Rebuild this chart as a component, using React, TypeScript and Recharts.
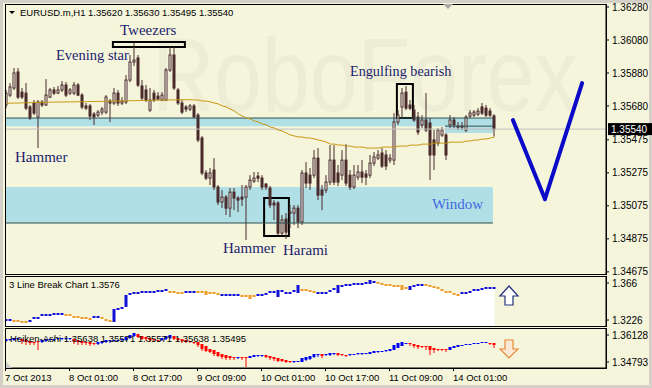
import React from 'react';
import { ComposedChart, Bar, Line, Area, XAxis, YAxis, ReferenceArea, ReferenceLine } from 'recharts';

// EURUSD.m H1, one entry per hourly bar (7 Oct 09:00 .. 14 Oct 11:00)
const opens = [
  1.35686, 1.35746, 1.35789, 1.35886, 1.35764, 1.35758, 1.35674, 1.35698, 1.35613, 1.35704,
  1.35686, 1.35734, 1.35777, 1.35758, 1.35777, 1.35807, 1.35758, 1.35758, 1.35807, 1.35746,
  1.3568, 1.3568, 1.35631, 1.35625, 1.35643, 1.35643, 1.3571, 1.35698, 1.35758, 1.35698,
  1.35704, 1.35837, 1.35946, 1.35971, 1.35801, 1.35777, 1.35655, 1.35758, 1.3574, 1.35716,
  1.35716, 1.35898, 1.35989, 1.35777, 1.35698, 1.35674, 1.35661, 1.3568, 1.35625, 1.35486,
  1.35274, 1.35243, 1.35292, 1.35189, 1.35098, 1.35128, 1.35061, 1.35158, 1.35122, 1.35128,
  1.35128, 1.35189, 1.35225, 1.35255, 1.35243, 1.35207, 1.35183, 1.35092, 1.35092, 1.3491,
  1.34995, 1.35037, 1.35031, 1.35061, 1.34977, 1.35274, 1.35261, 1.35261, 1.35364, 1.35171,
  1.35171, 1.35219, 1.35352, 1.35274, 1.35261, 1.35352, 1.35261, 1.35189, 1.35249, 1.3528,
  1.35268, 1.35261, 1.35334, 1.35364, 1.35395, 1.35383, 1.35352, 1.35352, 1.35583, 1.35674,
  1.35764, 1.35686, 1.35655, 1.35613, 1.35565, 1.35595, 1.35577, 1.35474, 1.35455, 1.35504,
  1.35504, 1.35565, 1.35595, 1.35558, 1.35552, 1.35534, 1.35619, 1.35625, 1.35631, 1.35674,
  1.35667, 1.35649, 1.3562,
];
const highs = [
  1.35777, 1.35819, 1.3591, 1.3591, 1.35789, 1.35819, 1.35686, 1.35716, 1.35716, 1.35716,
  1.35843, 1.35789, 1.35795, 1.35801, 1.35831, 1.35825, 1.35789, 1.35825, 1.35819, 1.35758,
  1.35698, 1.35692, 1.35643, 1.35655, 1.35674, 1.35746, 1.35722, 1.35789, 1.35777, 1.35734,
  1.35867, 1.35989, 1.36061, 1.35989, 1.35837, 1.35807, 1.35789, 1.35777, 1.35764, 1.35764,
  1.3591, 1.36037, 1.36037, 1.35789, 1.35716, 1.35686, 1.35692, 1.35692, 1.35637, 1.35498,
  1.35292, 1.35304, 1.35364, 1.35201, 1.35171, 1.3514, 1.35183, 1.35183, 1.35134, 1.35201,
  1.35201, 1.35261, 1.3528, 1.3528, 1.35261, 1.35213, 1.35195, 1.3511, 1.35104, 1.35019,
  1.35031, 1.3508, 1.3508, 1.3508, 1.35292, 1.3534, 1.35304, 1.35413, 1.35425, 1.35201,
  1.35261, 1.35443, 1.35443, 1.35322, 1.35413, 1.35449, 1.35292, 1.35322, 1.35322, 1.35352,
  1.35292, 1.35383, 1.35401, 1.35413, 1.35425, 1.35413, 1.35389, 1.35637, 1.35655, 1.35789,
  1.35801, 1.35716, 1.35686, 1.35643, 1.35625, 1.35758, 1.35607, 1.35534, 1.35546, 1.35552,
  1.35516, 1.35625, 1.35613, 1.35583, 1.35583, 1.35625, 1.35655, 1.35655, 1.35667, 1.35698,
  1.35686, 1.35667, 1.3563,
];
const lows = [
  1.35667, 1.35734, 1.35777, 1.35722, 1.35722, 1.35655, 1.35595, 1.35625, 1.35425, 1.35674,
  1.3568, 1.35728, 1.35746, 1.35752, 1.35764, 1.35734, 1.35746, 1.35746, 1.3574, 1.35661,
  1.35655, 1.35595, 1.35565, 1.35613, 1.35625, 1.35631, 1.35583, 1.35686, 1.3568, 1.35686,
  1.35692, 1.35825, 1.35922, 1.35795, 1.35716, 1.35704, 1.35643, 1.35704, 1.35716, 1.3571,
  1.3571, 1.35886, 1.35777, 1.35686, 1.35631, 1.35643, 1.35649, 1.35607, 1.35461, 1.35261,
  1.35231, 1.35201, 1.35171, 1.3508, 1.35061, 1.35019, 1.35007, 1.35049, 1.35037, 1.35074,
  1.34868, 1.35171, 1.35213, 1.35219, 1.35171, 1.35171, 1.35061, 1.34989, 1.34898, 1.34898,
  1.34874, 1.3494, 1.34959, 1.3494, 1.34959, 1.35183, 1.35171, 1.35243, 1.3511, 1.35049,
  1.35152, 1.35201, 1.35201, 1.35195, 1.35231, 1.35195, 1.35171, 1.35177, 1.35231, 1.35213,
  1.35201, 1.35243, 1.35316, 1.35352, 1.35304, 1.35292, 1.35334, 1.35322, 1.35565, 1.35607,
  1.35655, 1.35655, 1.35583, 1.35504, 1.35546, 1.35522, 1.35231, 1.35292, 1.35437, 1.35492,
  1.35352, 1.35546, 1.35546, 1.35534, 1.35534, 1.35522, 1.35607, 1.35613, 1.35619, 1.35625,
  1.35613, 1.35613, 1.35495,
];
const closes = [
  1.35758, 1.35795, 1.3588, 1.35734, 1.35734, 1.35667, 1.35607, 1.35637, 1.35704, 1.35686,
  1.35746, 1.35777, 1.35758, 1.35777, 1.35807, 1.35746, 1.35777, 1.35807, 1.35746, 1.35674,
  1.35667, 1.35619, 1.35613, 1.35643, 1.35661, 1.35734, 1.35698, 1.35758, 1.35698, 1.3571,
  1.35837, 1.35946, 1.35958, 1.35807, 1.35728, 1.35716, 1.35716, 1.35716, 1.35722, 1.35746,
  1.35898, 1.35989, 1.35789, 1.35698, 1.35643, 1.35661, 1.3568, 1.35613, 1.35474, 1.35274,
  1.35243, 1.35274, 1.35189, 1.35098, 1.35128, 1.35061, 1.35158, 1.35122, 1.3511, 1.35116,
  1.35189, 1.35231, 1.35243, 1.35243, 1.35189, 1.35189, 1.3508, 1.3508, 1.3491, 1.34989,
  1.34916, 1.35031, 1.35061, 1.34977, 1.35274, 1.35213, 1.35213, 1.35364, 1.3514, 1.3514,
  1.35219, 1.35352, 1.35219, 1.35219, 1.35352, 1.35213, 1.35189, 1.35261, 1.3528, 1.35249,
  1.35249, 1.35334, 1.35371, 1.35383, 1.35316, 1.35316, 1.35364, 1.35583, 1.35625, 1.35758,
  1.35667, 1.35667, 1.35595, 1.35522, 1.35595, 1.35534, 1.35383, 1.35383, 1.35534, 1.35534,
  1.35383, 1.35595, 1.35565, 1.35552, 1.35558, 1.35613, 1.35637, 1.35643, 1.35649, 1.35637,
  1.35625, 1.35625, 1.3554,
];
const movingAverage = [
  1.35696, 1.35697, 1.35698, 1.35698, 1.35699, 1.357, 1.357, 1.35701, 1.35702, 1.35702,
  1.35703, 1.35703, 1.35704, 1.35704, 1.35704, 1.35705, 1.35705, 1.35705, 1.35706, 1.35706,
  1.35706, 1.35707, 1.35707, 1.35708, 1.35708, 1.35709, 1.35709, 1.3571, 1.3571, 1.35711,
  1.35711, 1.35712, 1.35712, 1.35713, 1.35713, 1.35714, 1.35714, 1.35715, 1.35715, 1.35716,
  1.35716, 1.35717, 1.35717, 1.35718, 1.35718, 1.35718, 1.35718, 1.35717, 1.35716, 1.3571,
  1.3571, 1.35704, 1.35698, 1.35692, 1.3568, 1.35674, 1.35661, 1.35649, 1.35631, 1.35619,
  1.35607, 1.35601, 1.35589, 1.35583, 1.35571, 1.35565, 1.35552, 1.35546, 1.35534, 1.35528,
  1.35516, 1.35504, 1.35498, 1.35492, 1.35492, 1.35486, 1.35486, 1.3548, 1.35474, 1.35468,
  1.35461, 1.35449, 1.35449, 1.35443, 1.35443, 1.35437, 1.35437, 1.35431, 1.35431, 1.35431,
  1.35425, 1.35425, 1.35425, 1.35425, 1.35431, 1.35431, 1.35431, 1.35431, 1.35437, 1.35437,
  1.35437, 1.35443, 1.35443, 1.35443, 1.35449, 1.35449, 1.35449, 1.35455, 1.35455, 1.35455,
  1.35455, 1.35461, 1.35461, 1.35461, 1.35461, 1.35468, 1.35468, 1.35474, 1.35474, 1.3548,
  1.3548, 1.35486, 1.35492,
];

// 3 Line Break indicator
const lineBreak = [
  1.3226, 1.3226, 1.32143, 1.32143, 1.32025, 1.32025, 1.32143, 1.32495, 1.32495, 1.32846,
  1.32846, 1.32846, 1.32964, 1.32964, 1.32964, 1.32846, 1.32846, 1.32612, 1.32612, 1.32495,
  1.32495, 1.32377, 1.32612, 1.32612, 1.32495, 1.3226, 1.32143, 1.33433, 1.3355, 1.33668,
  1.35075, 1.3531, 1.35427, 1.35427, 1.35544, 1.35544, 1.35544, 1.35544, 1.35662, 1.35662,
  1.35779, 1.35544, 1.35544, 1.35427, 1.35427, 1.35544, 1.35544, 1.35544, 1.35544, 1.35544,
  1.3531, 1.35427, 1.35427, 1.3531, 1.35192, 1.35192, 1.35192, 1.35192, 1.35192, 1.35075,
  1.35075, 1.34841, 1.35075, 1.35192, 1.35192, 1.3531, 1.35544, 1.35544, 1.35662, 1.35662,
  1.35427, 1.35427, 1.35662, 1.36248, 1.35779, 1.35779, 1.35662, 1.35544, 1.35427, 1.35427,
  1.35427, 1.35662, 1.35896, 1.36248, 1.36248, 1.36365, 1.36365, 1.36483, 1.36483, 1.36483,
  1.366, 1.36835, 1.36717, 1.366, 1.36483, 1.36365, 1.36365, 1.36248, 1.36248, 1.35896,
  1.36014, 1.36131, 1.36248, 1.36365, 1.36365, 1.36365, 1.36248, 1.36131, 1.36014, 1.35779,
  1.35544, 1.35544, 1.3531, 1.35192, 1.35427, 1.35427, 1.35544, 1.35779, 1.35779, 1.35896,
  1.36014, 1.36014, 1.36014,
];
const lineBreakDir = (
  'uudddduuuuuuuuudddddddu' + 'udddu' + 'uuuuuuuuuuuuudddduuudddddd' + 'uuuuudddduuuuuuuuuuuddddu' +
  'uuuuuuuuuuuuuudddddddduuuudddddddddu' + 'uuuuuuuu'
).split('');
const lineBreakBlocks: [number, number][] = [
  [27, 1.32143], [30, 1.33902], [50, 1.35544], [61, 1.35075], [68, 1.35075],
  [73, 1.35544], [83, 1.35544], [91, 1.366], [99, 1.36248], [101, 1.35896],
];

// Heiken-Ashi indicator
const haOpen = [
  1.35832, 1.35881, 1.35881, 1.3593, 1.3593, 1.35881, 1.35832, 1.35782, 1.35832, 1.35782,
  1.35832, 1.35881, 1.35881, 1.3593, 1.3593, 1.3593, 1.3593, 1.3593, 1.35881, 1.35832,
  1.35782, 1.35782, 1.35733, 1.35683, 1.35733, 1.35782, 1.35832, 1.35832, 1.35832, 1.35881,
  1.35881, 1.3598, 1.36079, 1.36177, 1.36079, 1.36029, 1.3598, 1.3593, 1.35881, 1.35881,
  1.3593, 1.3598, 1.36079, 1.3598, 1.3593, 1.35881, 1.35832, 1.35782, 1.35782, 1.35683,
  1.35585, 1.35436, 1.35387, 1.35288, 1.35189, 1.3514, 1.35091, 1.35041, 1.34992, 1.35041,
  1.35041, 1.34992, 1.35041, 1.35091, 1.35091, 1.3514, 1.35091, 1.35041, 1.34992, 1.34942,
  1.34893, 1.34844, 1.34794, 1.34794, 1.34794, 1.34893, 1.34942, 1.35041, 1.3514, 1.35189,
  1.3514, 1.3514, 1.35189, 1.35239, 1.35189, 1.3514, 1.3514, 1.3514, 1.35189, 1.35189,
  1.35189, 1.35189, 1.35239, 1.35288, 1.35288, 1.35338, 1.35338, 1.35387, 1.35486, 1.35585,
  1.35683, 1.35733, 1.35683, 1.35634, 1.35585, 1.35585, 1.35585, 1.35486, 1.35436, 1.35436,
  1.35436, 1.35387, 1.35486, 1.35535, 1.35585, 1.35634, 1.35634, 1.35683, 1.35683, 1.35733,
  1.35733, 1.35733, 1.35733,
];
const haClose = [
  1.3593, 1.3593, 1.3598, 1.3598, 1.35832, 1.35782, 1.35733, 1.35733, 1.35782, 1.35881,
  1.3593, 1.3593, 1.3593, 1.3598, 1.3598, 1.3598, 1.3598, 1.35832, 1.35782, 1.35733,
  1.35733, 1.35683, 1.35683, 1.35782, 1.35832, 1.35881, 1.35881, 1.35881, 1.35881, 1.3593,
  1.36029, 1.36128, 1.36227, 1.36029, 1.3593, 1.3593, 1.35881, 1.35881, 1.35832, 1.3598,
  1.36079, 1.36128, 1.3593, 1.35881, 1.35832, 1.35782, 1.35782, 1.35733, 1.35634, 1.35436,
  1.35338, 1.35288, 1.35189, 1.35091, 1.35041, 1.34992, 1.34992, 1.34992, 1.35041, 1.34992,
  1.34992, 1.35091, 1.3514, 1.3514, 1.3514, 1.35041, 1.34992, 1.34942, 1.34844, 1.34844,
  1.34794, 1.34794, 1.34844, 1.34844, 1.34992, 1.35041, 1.35091, 1.35189, 1.35189, 1.35091,
  1.35189, 1.35239, 1.35239, 1.3514, 1.3514, 1.35091, 1.35189, 1.35189, 1.35239, 1.35239,
  1.35239, 1.35288, 1.35338, 1.35338, 1.35338, 1.35387, 1.35436, 1.35634, 1.35733, 1.35782,
  1.35733, 1.35683, 1.35585, 1.35535, 1.35535, 1.35535, 1.35387, 1.35387, 1.35387, 1.35387,
  1.35387, 1.35535, 1.35585, 1.35634, 1.35634, 1.35683, 1.35683, 1.35733, 1.35733, 1.35782,
  1.35782, 1.35683, 1.35634,
];
const haLow = [
  1.35782, 1.35832, 1.35832, 1.35881, 1.35683, 1.35634, 1.35634, 1.35634, 1.35387, 1.35733,
  1.35782, 1.35832, 1.35832, 1.35881, 1.35881, 1.35881, 1.35881, 1.35683, 1.35634, 1.35634,
  1.35634, 1.35585, 1.35634, 1.35634, 1.35683, 1.35733, 1.35733, 1.35782, 1.35832, 1.35832,
  1.35832, 1.3593, 1.36029, 1.3598, 1.35881, 1.35832, 1.35782, 1.35832, 1.35782, 1.35832,
  1.35881, 1.3593, 1.35881, 1.35782, 1.35733, 1.35733, 1.35733, 1.35683, 1.35535, 1.35338,
  1.35288, 1.35239, 1.35091, 1.35041, 1.34942, 1.34893, 1.34893, 1.34893, 1.34942, 1.34893,
  1.34547, 1.34992, 1.35041, 1.35041, 1.35041, 1.34992, 1.34893, 1.34844, 1.34794, 1.34794,
  1.34745, 1.34745, 1.34745, 1.34794, 1.34794, 1.34844, 1.34893, 1.34992, 1.35041, 1.34992,
  1.35091, 1.35091, 1.3514, 1.35091, 1.35091, 1.35041, 1.35091, 1.3514, 1.3514, 1.3514,
  1.35189, 1.35189, 1.35239, 1.35239, 1.35288, 1.35288, 1.35338, 1.35387, 1.35486, 1.35585,
  1.35683, 1.35585, 1.35486, 1.35436, 1.35486, 1.35387, 1.3514, 1.35239, 1.35338, 1.35338,
  1.35288, 1.35387, 1.35486, 1.35535, 1.35585, 1.35634, 1.35634, 1.35683, 1.35683, 1.35733,
  1.35733, 1.35634, 1.35486,
];

const priceTicks = [1.34675, 1.34875, 1.35075, 1.35275, 1.35475, 1.3568, 1.3588, 1.3608, 1.3628];
const lineBreakTicks = [1.3226, 1.366];
const heikenTicks = [1.34793, 1.36128];
const timeTicks = [0, 16, 32, 48, 64, 80, 96, 112];
const timeLabels = ['7 Oct 2013', '8 Oct 01:00', '8 Oct 17:00', '9 Oct 09:00', '10 Oct 01:00', '10 Oct 17:00', '11 Oct 09:00', '14 Oct 01:00'];

// drawn objects (bar index / price)
const zones = [
  { x1: -0.375, x2: 121.6, y1: 1.35558, y2: 1.35607 },
  { x1: 109.6, x2: 121.6, y1: 1.35516, y2: 1.35558 },
  { x1: -0.375, x2: 121.6, y1: 1.34971, y2: 1.35189 },
];
const zoneEdges = [
  { x1: -0.375, x2: 121.6, y: 1.35607 },
  { x1: 109.6, x2: 121.6, y: 1.35558 },
  { x1: -0.375, x2: 121.6, y: 1.34971 },
];
const patternBoxes = [
  { x1: 26.6, x2: 44.6, y1: 1.36037, y2: 1.36067 }, // tweezers
  { x1: 64.4, x2: 70.6, y1: 1.34892, y2: 1.35122 }, // harami
  { x1: 97.6, x2: 101.6, y1: 1.35607, y2: 1.35813 }, // engulfing
];
const forecast = [
  { i: 126.6, p: 1.35595 },
  { i: 134.6, p: 1.35116 },
  { i: 143.9, p: 1.35819 },
];

const FONT = '"Liberation Sans", Arial, sans-serif';
const SERIF = '"Liberation Serif", "Times New Roman", serif';
const BG = '#f5f5dc';
const CANDLE = '#4a2a2a';
const X_DOMAIN: [number, number] = [-0.375, 149.875];
const MAIN_DOMAIN: [number, number] = [1.34662, 1.36298];
const LB_DOMAIN: [number, number] = [1.31556, 1.37421];
const HA_DOMAIN: [number, number] = [1.34498, 1.36474];

const candles = opens.map((open, i) => ({
  i, open, high: highs[i], low: lows[i], close: closes[i],
  range: [lows[i], highs[i]], ma: movingAverage[i],
}));
const blockBase = new Map(lineBreakBlocks);
const lineBreakData = lineBreak.map((level, i) => {
  const base = blockBase.get(i) ?? level;
  return { i, level, up: lineBreakDir[i] === 'u', span: [Math.min(level, base), Math.max(level, base)] };
});
const heikenData = haOpen.map((o, i) => ({
  i, o, c: haClose[i], l: haLow[i], span: [haLow[i], Math.max(o, haClose[i])],
}));
const last = candles[candles.length - 1];

const Candle = (props: any) => {
  const { x, y, width, height, payload } = props;
  const { open, close, high, low } = payload;
  const k = height / (high - low);
  const top = y + (high - Math.max(open, close)) * k;
  const bot = y + (high - Math.min(open, close)) * k;
  const cx = x + width / 2;
  return (
    <g>
      <line x1={cx} x2={cx} y1={y} y2={y + height} stroke={CANDLE} />
      <rect x={x + 0.5} y={top} width={width - 1} height={Math.max(bot - top, 1)}
        fill={close >= open ? '#ffffff' : CANDLE} stroke={CANDLE} />
    </g>
  );
};

const BreakMark = (props: any) => {
  const { x, y, width, height, payload } = props;
  return <rect x={x} y={y - 1} width={width} height={Math.max(height || 0, 0) + 2} fill={payload.up ? '#1010d8' : '#f09a28'} />;
};

const HeikenBar = (props: any) => {
  const { x, y, width, height, payload } = props;
  const { o, c, l } = payload;
  const top = Math.max(o, c);
  const k = height / (top - l);
  const bodyH = (top - Math.min(o, c)) * k;
  const color = c > o ? '#0000f0' : '#ff0000';
  const cx = x + width / 2;
  return (
    <g>
      <line x1={cx} x2={cx} y1={y + bodyH} y2={y + height} stroke={color} />
      <rect x={x} y={y} width={width} height={Math.max(bodyH, 1)} fill={color} />
    </g>
  );
};

const PriceTag = (props: any) => {
  const { x, y, width } = props.viewBox;
  const left = x + width + 2;
  return (
    <g>
      <rect x={left} y={y - 6} width={44} height={12} fill="#000" />
      <text x={left + 3} y={y + 4} fill="#fff" fontSize={10} fontFamily={FONT}>{last.close.toFixed(5)}</text>
    </g>
  );
};

const TimeTick = (props: any) => {
  const { x, y, payload } = props;
  const tx = x - 1.5;
  return (
    <g>
      <line x1={tx + 0.5} x2={tx + 0.5} y1={y} y2={y + 3} stroke="#000" />
      <text x={tx} y={y + 13} fontSize={9.5} fontFamily={FONT} fill="#000">
        {timeLabels[timeTicks.indexOf(payload.value)]}
      </text>
    </g>
  );
};

const yAxisProps = {
  orientation: 'right' as const,
  width: 46,
  allowDataOverflow: true,
  interval: 0 as const,
  tickSize: 3,
  tickMargin: 3,
  axisLine: { stroke: '#000' },
  tickLine: { stroke: '#000' },
  tick: { fill: '#000', fontSize: 10, fontFamily: FONT },
};

const frame = (top: number, height: number): React.CSSProperties => ({
  position: 'absolute', left: 5, top, width: 602, height, border: '1px solid #000', boxSizing: 'border-box',
});

const App: React.FC = () => {
  return (
    <div style={{ position: 'fixed', left: 0, top: 0, width: 652, height: 388, background: '#d4d0c8', overflow: 'hidden' }}>
      <div style={{ position: 'absolute', left: 3, top: 3, width: 646, height: 382, background: BG }} />
      {/* broker watermark */}
      <div style={{
        position: 'absolute', left: 152, top: 23,
        fontFamily: FONT, fontSize: 86, lineHeight: '86px', color: '#ededd6', whiteSpace: 'nowrap',
        transform: 'scaleY(1.2)', transformOrigin: '0 0',
      }}>RoboForex</div>

      <div style={{ position: 'absolute', left: 0, top: 0 }}>
        <ComposedChart width={652} height={278} data={candles} margin={{ top: 4, right: 0, bottom: 4, left: 5 }}>
          <XAxis dataKey="i" type="number" domain={X_DOMAIN} allowDataOverflow hide />
          <YAxis {...yAxisProps} domain={MAIN_DOMAIN} ticks={priceTicks} tickFormatter={(v: number) => v.toFixed(5)} />
          {zones.map((z, k) => (
            <ReferenceArea key={'z' + k} x1={z.x1} x2={z.x2} y1={z.y1} y2={z.y2} fill="#b0e0e6" fillOpacity={1} stroke="none" ifOverflow="visible" />
          ))}
          {zoneEdges.map((e, k) => (
            <ReferenceLine key={'e' + k} segment={[{ x: e.x1, y: e.y }, { x: e.x2, y: e.y }]} stroke="#2f4f4f" strokeWidth={1} ifOverflow="visible" />
          ))}
          <ReferenceLine y={last.close} stroke="#c0c0c0" label={<PriceTag />} />
          <Line dataKey="ma" type="linear" stroke="#c8960c" strokeWidth={1} dot={false} isAnimationActive={false} />
          <Bar dataKey="range" barSize={3} shape={<Candle />} isAnimationActive={false} />
          {patternBoxes.map((b, k) => (
            <ReferenceArea key={'b' + k} x1={b.x1} x2={b.x2} y1={b.y1} y2={b.y2} fill="none" stroke="#000" strokeWidth={2} fillOpacity={0} ifOverflow="visible" />
          ))}
          {forecast.slice(1).map((pt, k) => (
            <ReferenceLine key={'f' + k} segment={[{ x: forecast[k].i, y: forecast[k].p }, { x: pt.i, y: pt.p }]}
              stroke="#0a0ac8" strokeWidth={4} strokeLinecap="round" ifOverflow="visible" />
          ))}
        </ComposedChart>
      </div>

      <div style={{ position: 'absolute', left: 0, top: 276 }}>
        <ComposedChart width={652} height={50} data={lineBreakData} margin={{ top: 0, right: 0, bottom: 0, left: 5 }}>
          <XAxis dataKey="i" type="number" domain={X_DOMAIN} allowDataOverflow hide />
          <YAxis {...yAxisProps} domain={LB_DOMAIN} ticks={lineBreakTicks} tickFormatter={(v: number) => String(v)} />
          <Area dataKey="level" type="linear" stroke="none" fill="#ffffff" fillOpacity={1} baseValue={LB_DOMAIN[0]} isAnimationActive={false} />
          <Bar dataKey="span" barSize={3} shape={<BreakMark />} isAnimationActive={false} />
        </ComposedChart>
      </div>

      <div style={{ position: 'absolute', left: 0, top: 328 }}>
        <ComposedChart width={652} height={60} data={heikenData} margin={{ top: 0, right: 0, bottom: 0, left: 5 }}>
          <XAxis dataKey="i" type="number" domain={X_DOMAIN} allowDataOverflow ticks={timeTicks} interval={0}
            height={20} tickSize={0} tickMargin={0} axisLine={{ stroke: '#000' }} tickLine={false} tick={<TimeTick />} />
          <YAxis {...yAxisProps} domain={HA_DOMAIN} ticks={heikenTicks} tickFormatter={(v: number) => v.toFixed(5)} />
          <Bar dataKey="span" barSize={3} shape={<HeikenBar />} isAnimationActive={false} />
        </ComposedChart>
      </div>

      <div style={frame(4, 271)} />
      <div style={frame(276, 51)} />
      <div style={frame(328, 41)} />

      <svg width={652} height={388} style={{ position: 'absolute', left: 0, top: 0, pointerEvents: 'none' }}>
        <polygon points="9,11 15,11 12,14" fill="#000" />
        <text x={20} y={16} fontSize={9.5} fontFamily={FONT} fill="#000">
          {`EURUSD.m,H1  ${last.open.toFixed(5)} ${last.high.toFixed(5)} ${last.low.toFixed(5)} ${last.close.toFixed(5)}`}
        </text>
        <polygon points="443,4 453,4 448,9" fill="#a8a8a8" />
        <g fontFamily={SERIF} fill="#1c1c6e" fontSize={15}>
          <text x={120} y={35}>Tweezers</text>
          <text x={56} y={60} fontSize={14.5}>Evening star</text>
          <text x={15} y={162}>Hammer</text>
          <text x={223} y={253}>Hammer</text>
          <text x={283} y={255}>Harami</text>
          <text x={350} y={76} fontSize={14.2}>Engulfing bearish</text>
        </g>
        <text x={432} y={209} fontFamily={SERIF} fontSize={15} fill="#4169e1">Window</text>
        <text x={9} y={288} fontSize={9.5} fontFamily={FONT} fill="#000">3 Line Break Chart 1.3576</text>
        <text x={10} y={342} fontSize={9.5} fontFamily={FONT} fill="#000">Heiken-Ashi 1.35638 1.35571 1.35571 1.35638 1.35495</text>
        <polygon points="509,286 518,296 513,296 513,305 505,305 505,296 500,296" fill="#ffffff" stroke="#22307a" strokeWidth={1.2} />
        <polygon points="505,340 513,340 513,349 518,349 509,358 500,349 505,349" fill="#fbe9d6" stroke="#e8883a" strokeWidth={1.2} />
        <polygon points="6,362 6,368 12,368" fill="#c8c8c8" />
      </svg>
    </div>
  );
};

export default App;
